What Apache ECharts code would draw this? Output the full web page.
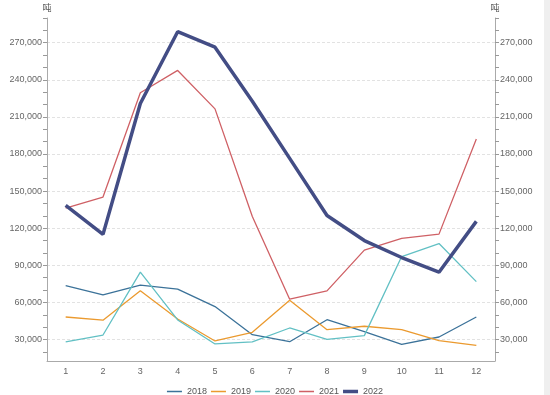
<!DOCTYPE html>
<html><head><meta charset="utf-8">
<script src="https://cdn.jsdelivr.net/npm/echarts@6/dist/echarts.min.js"></script>
<style>html,body{margin:0;padding:0;background:#fff}#c{width:550px;height:395px}</style>
</head><body><div id="c"></div>
<script>
var months = ['1','2','3','4','5','6','7','8','9','10','11','12'];
var s2018 = [73600, 66100, 73900, 70700, 56600, 33900, 28200, 46000, 36300, 26100, 32000, 48200];
var s2019 = [48200, 45600, 69500, 46600, 28800, 35800, 61700, 37900, 40700, 37900, 29000, 25300];
var s2020 = [28000, 33600, 84500, 45800, 26400, 28000, 39300, 30100, 33100, 97100, 107600, 76800];
var s2021 = [136300, 145200, 229500, 247600, 216500, 129500, 62600, 69300, 102300, 111700, 115200, 192200];
var s2022 = [138400, 115000, 220800, 278900, 266400, 222700, 176500, 130300, 110000, 96300, 84400, 125500];
var labelTicks = [30000, 60000, 90000, 120000, 150000, 180000, 210000, 240000, 270000];
var minorTicks = [20000, 30000, 40000, 50000, 60000, 70000, 80000, 90000, 100000, 110000, 120000, 130000, 140000, 150000, 160000, 170000, 180000, 190000, 200000, 210000, 220000, 230000, 240000, 250000, 260000, 270000, 280000, 290000];
var unit = '吨';
var yMin = 12600, yMax = 290000;

var FONT = 'Liberation Sans';
var THIN = 'path://M0,0L0.01,0L0.01,0.01L0,0.01ZM0,7.99L0.01,7.99L0.01,8L0,8ZM0,3.3L15,3.3L15,4.7L0,4.7Z';
var THICK = 'path://M0,0L0.01,0L0.01,0.01L0,0.01ZM0,7.99L0.01,7.99L0.01,8L0,8ZM0,2.2L15,2.2L15,5.8L0,5.8Z';
function fmt(v){ return String(v).replace(/\B(?=(\d{3})+(?!\d))/g, ','); }
function yAx(pos){
  return {
    type: 'value', position: pos, min: yMin, max: yMax,
    name: unit, nameGap: 6,
    nameTextStyle: {color: '#555', fontSize: 9, fontFamily: 'Noto Sans CJK SC', align: 'center'},
    axisLine: {show: true, lineStyle: {color: '#aaa'}},
    axisTick: {show: true, length: 4, inside: false, customValues: minorTicks, lineStyle: {color: '#999'}},
    axisLabel: {show: true, customValues: labelTicks, formatter: fmt, color: '#666', fontSize: 9, fontFamily: FONT, margin: 5},
    splitLine: {show: false}
  };
}
var gridAxis = {
  type: 'value', position: 'left', min: yMin, max: yMax,
  axisLine: {show: false}, axisLabel: {show: false},
  axisTick: {show: false, customValues: labelTicks},
  splitLine: {show: true, lineStyle: {color: '#e2e2e2', type: [3, 2], width: 1}}
};
var colors = {'2018': '#3b7299', '2019': '#eb9a2f', '2020': '#62c0c4', '2021': '#cf6065', '2022': '#434d85'};
function ln(name, data, w){
  return {name: name, type: 'line', data: data, symbol: 'none', yAxisIndex: 0,
    lineStyle: {color: colors[name], width: w}, itemStyle: {color: colors[name]}, z: w > 2 ? 5 : 3};
}
var chart = echarts.init(document.getElementById('c'), null, {renderer: 'canvas'});
chart.setOption({
  animation: false,
  backgroundColor: '#fff',
  grid: {left: 47, right: 55, top: 18, bottom: 34},
  legend: {
    top: 382, left: 'center', itemWidth: 15, itemHeight: 8, itemGap: 4,
    textStyle: {color: '#555', fontSize: 9, fontFamily: FONT},
    data: [
      {name: '2018', icon: THIN},
      {name: '2019', icon: THIN},
      {name: '2020', icon: THIN},
      {name: '2021', icon: THIN},
      {name: '2022', icon: THICK}
    ]
  },
  xAxis: {
    type: 'category', data: months, boundaryGap: true,
    axisLine: {lineStyle: {color: '#aaa'}},
    axisTick: {alignWithLabel: true, length: 4, lineStyle: {color: '#999'}},
    axisLabel: {color: '#666', fontSize: 9, fontFamily: FONT, margin: 6}
  },
  yAxis: [yAx('left'), yAx('right'), gridAxis],
  series: [
    ln('2018', s2018, 1.3),
    ln('2019', s2019, 1.3),
    ln('2020', s2020, 1.3),
    ln('2021', s2021, 1.3),
    ln('2022', s2022, 3.5)
  ],
  graphic: [{type: 'rect', shape: {x: 544, y: 0, width: 6, height: 395}, style: {fill: '#efefef'}, silent: true}]
});
</script></body></html>
